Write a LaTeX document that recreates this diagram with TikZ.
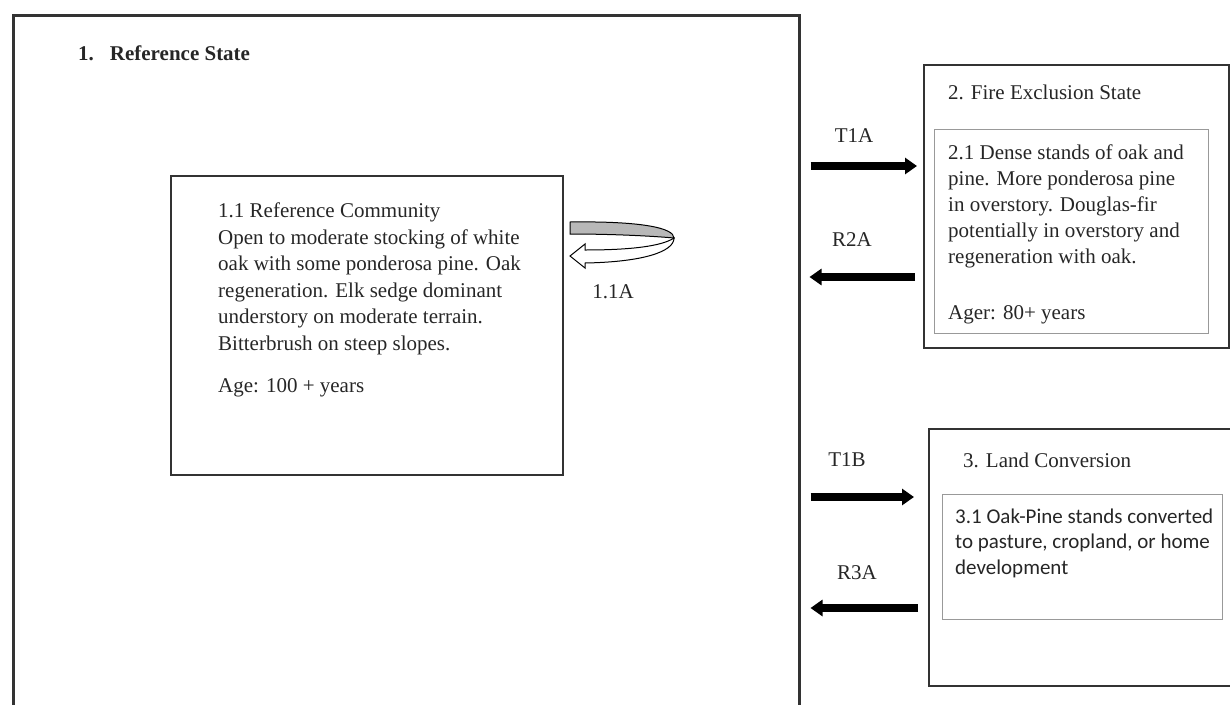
\documentclass[tikz,border=0pt]{standalone}
\usepackage{fontspec}
\setmainfont{Liberation Serif}
\newfontfamily\calibrifont{Carlito}
\usetikzlibrary{arrows.meta,positioning}

\begin{document}
\begin{tikzpicture}[
  x=1pt, y=-1pt,
  font=\fontsize{21}{26.5}\selectfont,
  frame/.style={draw=black!80, line width=2pt, inner sep=0pt, anchor=north west},
  subframe/.style={draw=black!40, line width=1pt, inner sep=0pt, anchor=north west},
  txt/.style={align=left, inner sep=0pt, anchor=base west, text=black!85},
  lbl/.style={inner sep=0pt, text=black!85},
  bigarrow/.style={-{Triangle[length=12pt,width=16pt]}, line width=8pt}
]
\useasboundingbox (0,0) rectangle (1230,704);
\clip (0,0) rectangle (1230,704);

% state boxes
\node[frame, line width=2.5pt, minimum width=786pt, minimum height=720pt] (state1) at (12,14) {};
\node[frame, minimum width=392pt, minimum height=299pt] (comm) at (170,175) {};
\node[frame, minimum width=305pt, minimum height=283pt] (fire) at (923,64) {};
\node[subframe, minimum width=274pt, minimum height=204pt] (dense) at (934,129) {};
\node[frame, minimum width=306pt, minimum height=257pt] (land) at (928,428) {};
\node[subframe, minimum width=280pt, minimum height=125pt] (conv) at (942,494) {};

% texts (base = last line)
\node[txt, font=\fontsize{21}{26.5}\selectfont\bfseries] (state1title) at (78,60) {1.\hspace{16pt}Reference State};
\node[txt] (commtext) at (218,392) {1.1 Reference Community\\
  Open to moderate stocking of white\\
  oak with some ponderosa pine. Oak\\
  regeneration. Elk sedge dominant\\
  understory on moderate terrain.\\
  Bitterbrush on steep slopes.\\[15.5pt]
  Age: 100 + years};
\node[txt] (firetitle) at (948,99) {2. Fire Exclusion State};
\node[txt, font=\fontsize{21}{26.2}\selectfont] (densetext) at (948,319) {2.1 Dense stands of oak and\\
  pine. More ponderosa pine\\
  in overstory. Douglas-fir\\
  potentially in overstory and\\
  regeneration with oak.\\[29pt]
  Ager: 80+ years};
\node[txt] (landtitle) at (963,467) {3. Land Conversion};
\node[txt, font=\calibrifont\fontsize{21}{25.5}\selectfont] (convtext) at (955,574) {3.1 Oak-Pine stands converted\\
  to pasture, cropland, or home\\
  development};

% loop arrow on 1.1
\begin{scope}[shift={(comm.north east)}, draw=black, line width=1pt]
  \filldraw[fill=black!28] (6,47) .. controls (78,46) and (110,53) .. (110,63)
    .. controls (88,61) and (48,59) .. (6,59) -- cycle;
  \filldraw[fill=white] (110,63) .. controls (110,77) and (78,87) .. (21,88)
    -- (21,93) -- (6,81) -- (21,69) -- (21,75)
    .. controls (68,75) and (98,71) .. (110,63) -- cycle;
\end{scope}
\node[lbl] (loop) at (613,292) {1.1A};

% transitions
\coordinate (t1a) at (0,166);
\coordinate (r2a) at (0,277);
\coordinate (t1b) at (0,497);
\coordinate (r3a) at (0,608);
\draw[bigarrow] ([xshift=10pt]state1.east |- t1a) -- ([xshift=-6pt]fire.west |- t1a);
\draw[bigarrow] ([xshift=-8pt]fire.west |- r2a) -- ([xshift=9pt]state1.east |- r2a);
\draw[bigarrow] ([xshift=10pt]state1.east |- t1b) -- ([xshift=-14pt]land.west |- t1b);
\draw[bigarrow] ([xshift=-10pt]land.west |- r3a) -- ([xshift=10pt]state1.east |- r3a);
\node[lbl] (t1alabel) at (854,136) {T1A};
\node[lbl] (r2alabel) at (852,240) {R2A};
\node[lbl] (t1blabel) at (847,460) {T1B};
\node[lbl] (r3alabel) at (857,573) {R3A};
\end{tikzpicture}
\end{document}
